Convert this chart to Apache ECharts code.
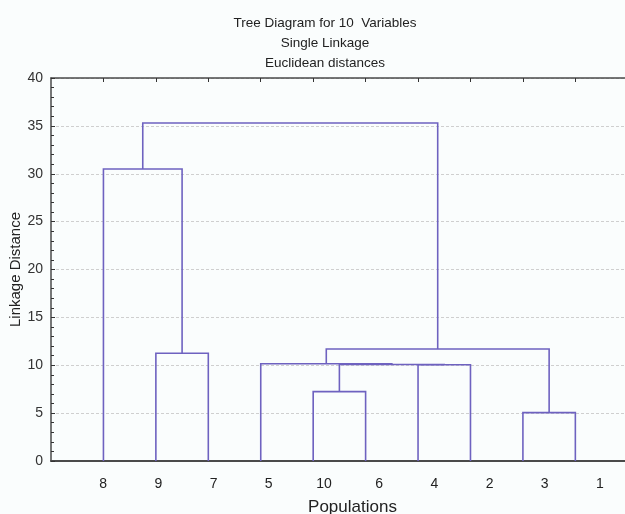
<!DOCTYPE html>
<html><head><meta charset="utf-8">
<script src="https://cdn.jsdelivr.net/npm/echarts@6/dist/echarts.min.js"></script>
<style>html,body{margin:0;padding:0;background:#fafdfd}#c{width:625px;height:514px}</style>
</head><body><div id="c"></div><script>
// leaves in dendrogram order
const leafOrder = ['8','9','7','5','10','6','4','2','3','1'];
// merges m0..m8 (single linkage), children are leaf labels or merge ids
const mergeLeft   = ['3','10','4','m1','5','9','m4','8','m7'];
const mergeRight  = ['1','6','2','m2','m3','7','m0','m5','m6'];
const mergeHeight = [5.05, 7.25, 10.05, 10.08, 10.15, 11.25, 11.7, 30.5, 35.3];
const yTicks = [0,5,10,15,20,25,30,35,40];

const pos = {}, hgt = {};
leafOrder.forEach((l,i)=>{pos[l]=i;hgt[l]=0;});
const segs = [];
mergeLeft.forEach((l,i)=>{
  const r = mergeRight[i], h = mergeHeight[i], id='m'+i;
  segs.push({coords:[[pos[l],hgt[l]],[pos[l],h],[pos[r],h],[pos[r],hgt[r]]]});
  pos[id]=(pos[l]+pos[r])/2; hgt[id]=h;
});
const leafIdx = leafOrder.map((_,i)=>i);
const font = 'Liberation Sans, Arial, sans-serif';
const chart = echarts.init(document.getElementById('c'));
chart.setOption({
  backgroundColor:'#fafdfd',
  animation:false,
  title:{text:'Tree Diagram for 10  Variables\nSingle Linkage\nEuclidean distances',
    left:320, top:8, textAlign:'center',
    textStyle:{fontFamily:font,fontSize:13.5,fontWeight:'normal',color:'#222',lineHeight:20}},
  grid:{left:51,right:-29,top:78,bottom:53,outerBoundsMode:'none',containLabel:false},
  xAxis:[
    {type:'value',min:-1,max:10.5,position:'bottom',
     axisLine:{show:true,onZero:false,lineStyle:{color:'#4a4a4a',width:2}},
     axisTick:{show:false},axisLabel:{show:false},splitLine:{show:false}},
    {type:'value',min:-0.945,max:9.98,position:'bottom',
     axisLine:{show:false,onZero:false},axisTick:{show:false},splitLine:{show:false},
     axisLabel:{customValues:leafIdx,formatter:v=>leafOrder[Math.round(v)],
       margin:16,fontFamily:font,fontSize:14,color:'#222'},
     name:'Populations',nameLocation:'middle',nameGap:38,
     nameTextStyle:{fontFamily:font,fontSize:17,color:'#222'}},
    {type:'value',min:-1,max:10.5,position:'top',
     axisLine:{show:true,onZero:false,lineStyle:{color:'#4a4a4a',width:1.5}},
     axisTick:{show:true,inside:true,length:4,customValues:leafIdx,lineStyle:{color:'#333'}},
     axisLabel:{show:false},splitLine:{show:false}}
  ],
  yAxis:{type:'value',min:0,max:40,interval:5,
    axisLine:{show:true,onZero:false,lineStyle:{color:'#4a4a4a',width:1.5}},
    axisTick:{show:true,inside:true,length:4,lineStyle:{color:'#333'}},
    minorTick:{show:true,splitNumber:5,length:3,lineStyle:{color:'#333'}},
    axisLabel:{customValues:yTicks,margin:8,fontFamily:font,fontSize:14,color:'#333'},
    splitLine:{show:true,lineStyle:{color:'#cfcfcf',type:[3,2],width:1}},
    name:'Linkage Distance',nameLocation:'middle',nameGap:28,nameMoveOverlap:false,
    nameTextStyle:{fontFamily:font,fontSize:15,color:'#222'}},
  series:[{type:'lines',coordinateSystem:'cartesian2d',xAxisIndex:0,yAxisIndex:0,
    polyline:true,data:segs,lineStyle:{color:'#6e62c0',width:1.6,opacity:1}}]
});
</script></body></html>
